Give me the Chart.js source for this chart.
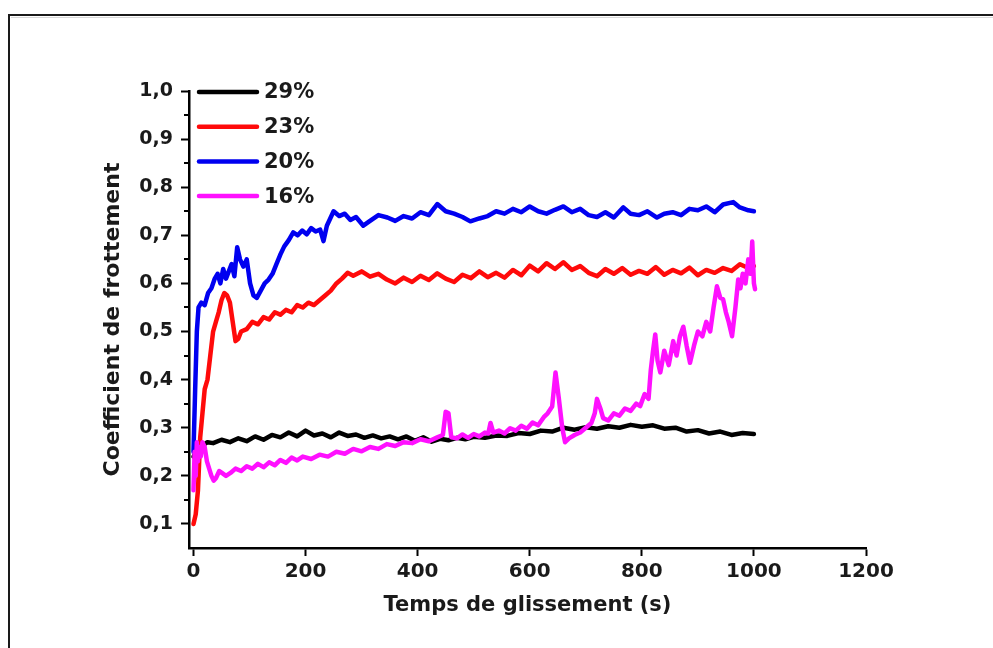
<!DOCTYPE html>
<html>
<head>
<meta charset="utf-8">
<title>Coefficient de frottement</title>
<script src="https://cdn.jsdelivr.net/npm/chart.js@4/dist/chart.umd.min.js"></script>
<style>
  html, body { margin: 0; padding: 0; background: #ffffff; }
  #wrap { width: 993px; height: 648px; position: relative; }
</style>
</head>
<body>
<div id="wrap"><canvas id="c" width="993" height="648"></canvas></div>
<script>
// Sliding time (s) and friction coefficient for each humidity level
const labels = ['29%', '23%', '20%', '16%'];
const colors = ['#000000', '#ff0a0a', '#0000f0', '#ff10ff'];

const x29 = [0, 5, 10, 15, 25, 35, 50, 65, 80, 95, 110, 125, 140, 155, 170, 185, 200, 215, 230, 245, 260, 275, 290, 305, 320, 335, 350, 365, 380, 395, 410, 425, 440, 455, 470, 485, 500, 520, 540, 560, 580, 600, 620, 640, 660, 680, 700, 720, 740, 760, 780, 800, 820, 840, 860, 880, 900, 920, 940, 960, 980, 1000];
const y29 = [0.24, 0.25, 0.245, 0.262, 0.27, 0.268, 0.275, 0.27, 0.278, 0.272, 0.282, 0.275, 0.285, 0.28, 0.29, 0.282, 0.294, 0.284, 0.288, 0.28, 0.29, 0.283, 0.286, 0.279, 0.284, 0.278, 0.282, 0.276, 0.282, 0.273, 0.28, 0.271, 0.277, 0.274, 0.279, 0.276, 0.281, 0.279, 0.284, 0.283, 0.289, 0.287, 0.294, 0.292, 0.3, 0.296, 0.301, 0.298, 0.303, 0.3, 0.306, 0.302, 0.305, 0.298, 0.3, 0.292, 0.295, 0.288, 0.292, 0.285, 0.289, 0.287];

const x23 = [0, 4, 8, 12, 16, 20, 25, 30, 35, 40, 45, 50, 55, 60, 65, 70, 75, 80, 85, 95, 105, 115, 125, 135, 145, 155, 165, 175, 185, 195, 205, 215, 225, 235, 245, 255, 265, 275, 285, 300, 315, 330, 345, 360, 375, 390, 405, 420, 435, 450, 465, 480, 495, 510, 525, 540, 555, 570, 585, 600, 615, 630, 645, 660, 675, 690, 705, 720, 735, 750, 765, 780, 795, 810, 825, 840, 855, 870, 885, 900, 915, 930, 945, 960, 975, 990, 1000];
const y23 = [0.1, 0.12, 0.17, 0.28, 0.33, 0.38, 0.4, 0.45, 0.5, 0.52, 0.54, 0.565, 0.58, 0.575, 0.56, 0.52, 0.48, 0.485, 0.5, 0.505, 0.52, 0.515, 0.53, 0.525, 0.54, 0.535, 0.545, 0.54, 0.555, 0.55, 0.56, 0.555, 0.565, 0.575, 0.585, 0.6, 0.61, 0.622, 0.616, 0.625, 0.614, 0.62, 0.608, 0.6, 0.612, 0.603, 0.616, 0.607, 0.621, 0.61, 0.603, 0.618, 0.611, 0.625, 0.613, 0.622, 0.612, 0.628, 0.617, 0.637, 0.625, 0.642, 0.63, 0.644, 0.628, 0.636, 0.622, 0.615, 0.63, 0.62, 0.632, 0.618, 0.626, 0.62, 0.634, 0.618, 0.628, 0.621, 0.633, 0.617, 0.628, 0.622, 0.632, 0.626, 0.64, 0.632, 0.636];

const x20 = [0, 3, 6, 9, 14, 20, 26, 32, 38, 43, 48, 53, 58, 63, 68, 73, 78, 83, 89, 95, 101, 107, 113, 120, 127, 134, 141, 148, 155, 162, 170, 178, 186, 194, 202, 210, 218, 226, 232, 238, 244, 250, 260, 270, 280, 290, 303, 315, 330, 346, 360, 375, 390, 405, 420, 435, 450, 465, 480, 494, 510, 525, 540, 555, 570, 585, 600, 615, 630, 645, 660, 675, 690, 705, 720, 735, 750, 767, 780, 795, 810, 827, 840, 855, 870, 885, 900, 915, 930, 945, 963, 975, 990, 1000];
const y20 = [0.25, 0.38, 0.5, 0.55, 0.56, 0.555, 0.58, 0.59, 0.61, 0.62, 0.6, 0.63, 0.61, 0.625, 0.64, 0.615, 0.675, 0.65, 0.635, 0.65, 0.6, 0.575, 0.57, 0.585, 0.6, 0.608, 0.62, 0.64, 0.66, 0.677, 0.69, 0.706, 0.7, 0.71, 0.702, 0.715, 0.708, 0.712, 0.688, 0.72, 0.735, 0.75, 0.74, 0.745, 0.732, 0.738, 0.72, 0.73, 0.742, 0.737, 0.73, 0.74, 0.735, 0.748, 0.742, 0.765, 0.75, 0.745, 0.738, 0.729, 0.735, 0.74, 0.75, 0.745, 0.755, 0.748, 0.76, 0.75, 0.745, 0.753, 0.76, 0.748, 0.755, 0.742, 0.738, 0.748, 0.737, 0.758, 0.745, 0.742, 0.75, 0.737, 0.745, 0.748, 0.742, 0.755, 0.752, 0.76, 0.748, 0.764, 0.769, 0.758, 0.752, 0.75];

const x16 = [0, 2, 4, 6, 8, 10, 13, 16, 20, 24, 28, 32, 36, 40, 46, 52, 58, 66, 75, 85, 95, 105, 115, 125, 135, 145, 155, 165, 175, 185, 195, 210, 225, 240, 255, 270, 285, 300, 315, 330, 345, 360, 375, 390, 405, 420, 435, 445, 450, 455, 460, 470, 480, 490, 500, 510, 520, 526, 530, 535, 545, 555, 565, 575, 585, 595, 605, 615, 625, 632, 640, 646, 652, 658, 663, 670, 680, 690, 700, 710, 716, 720, 726, 731, 740, 750, 760, 770, 780, 790, 797, 805, 812, 816, 820, 824, 828, 833, 840, 848, 856, 862, 868, 874, 880, 886, 893, 900, 908, 915, 922, 928, 934, 940, 945, 950, 955, 961, 967, 972, 976, 980, 985, 990, 994, 997, 1000, 1002];
const y16 = [0.17, 0.25, 0.2, 0.27, 0.23, 0.26, 0.24, 0.27, 0.26, 0.23, 0.215, 0.2, 0.19, 0.195, 0.21, 0.205, 0.2, 0.206, 0.215, 0.21, 0.22, 0.215, 0.225, 0.218, 0.228, 0.222, 0.233, 0.227, 0.238, 0.232, 0.24, 0.235, 0.244, 0.24, 0.25, 0.246, 0.256, 0.251, 0.26, 0.256, 0.266, 0.262, 0.27, 0.268, 0.276, 0.272, 0.28, 0.285, 0.333, 0.33, 0.28, 0.278, 0.286, 0.279, 0.287, 0.282, 0.29, 0.288, 0.31, 0.29, 0.294, 0.288, 0.299, 0.294, 0.304, 0.298, 0.311, 0.305, 0.322, 0.33, 0.344, 0.415, 0.36, 0.3, 0.27, 0.278, 0.285, 0.29, 0.3, 0.31, 0.33, 0.36, 0.34, 0.32, 0.315, 0.33, 0.325, 0.34, 0.335, 0.35, 0.345, 0.37, 0.36, 0.42, 0.46, 0.494, 0.44, 0.415, 0.46, 0.43, 0.48, 0.45, 0.49, 0.51, 0.47, 0.435, 0.47, 0.5, 0.49, 0.52, 0.5, 0.55, 0.594, 0.57, 0.567, 0.54, 0.52, 0.49, 0.55, 0.608, 0.59, 0.62, 0.6, 0.65, 0.62, 0.687, 0.6, 0.588];

// Axis ticks
const xTicks = [0, 200, 400, 600, 800, 1000, 1200];
const yTicks = [0.1, 0.2, 0.3, 0.4, 0.5, 0.6, 0.7, 0.8, 0.9, 1.0];
const yMinorTicks = [0.15, 0.25, 0.35, 0.45, 0.55, 0.65, 0.75, 0.85, 0.95];

const FONT = '"DejaVu Sans", "Liberation Sans", Arial, sans-serif';

const series = [[x29, y29], [x23, y23], [x20, y20], [x16, y16]];
const datasets = series.map(([xs, ys], i) => ({
  label: labels[i],
  data: xs.map((x, k) => ({ x: x, y: ys[k] })),
  borderColor: colors[i],
  backgroundColor: colors[i],
  borderWidth: 4.5,
  borderJoinStyle: 'round',
  borderCapStyle: 'round',
  pointRadius: 0,
  tension: 0,
  fill: false,
  order: 4 - i
}));

// Outer frame around the figure
const framePlugin = {
  id: 'frame',
  beforeDraw(chart) {
    const ctx = chart.ctx;
    ctx.save();
    ctx.strokeStyle = '#1a1a1a';
    ctx.lineWidth = 2;
    ctx.beginPath();
    ctx.moveTo(9, chart.height);
    ctx.lineTo(9, 15);
    ctx.lineTo(chart.width, 15);
    ctx.stroke();
    ctx.strokeStyle = '#d8d8d8';
    ctx.lineWidth = 1;
    ctx.beginPath();
    ctx.moveTo(11, 17.5);
    ctx.lineTo(chart.width, 17.5);
    ctx.stroke();
    ctx.restore();
  }
};

// Minor ticks on the y axis and the legend inside the plot
const extrasPlugin = {
  id: 'extras',
  afterDraw(chart) {
    const ctx = chart.ctx;
    const ys = chart.scales.y;
    const area = chart.chartArea;
    ctx.save();
    ctx.strokeStyle = '#000';
    ctx.lineWidth = 2;
    yMinorTicks.forEach(v => {
      const py = Math.round(ys.getPixelForValue(v));
      ctx.beginPath();
      ctx.moveTo(area.left - 5, py);
      ctx.lineTo(area.left, py);
      ctx.stroke();
    });
    // legend
    ctx.font = 'bold 21px ' + FONT;
    ctx.textBaseline = 'middle';
    ctx.textAlign = 'left';
    chart.data.datasets.forEach((ds, i) => {
      const yy = area.top + 1 + i * 34.7;
      ctx.strokeStyle = ds.borderColor;
      ctx.lineWidth = 4.5;
      ctx.lineCap = 'round';
      ctx.beginPath();
      ctx.moveTo(area.left + 10, yy);
      ctx.lineTo(area.left + 68, yy);
      ctx.stroke();
      ctx.fillStyle = '#1a1a1a';
      ctx.fillText(ds.label, area.left + 75, yy + 1);
    });
    ctx.restore();
  }
};

new Chart(document.getElementById('c'), {
  type: 'line',
  data: { datasets: datasets },
  options: {
    responsive: false,
    animation: false,
    layout: { padding: { left: 89, right: 127, top: 91, bottom: 20 } },
    plugins: { legend: { display: false }, tooltip: { enabled: false } },
    scales: {
      x: {
        type: 'linear',
        min: -8,
        max: 1200,
        afterBuildTicks(scale) { scale.ticks = xTicks.map(v => ({ value: v })); },
        afterFit(scale) { scale.height = 80; },
        border: { display: true, color: '#000', width: 2.5 },
        grid: { drawOnChartArea: false, drawTicks: true, tickLength: 8, tickWidth: 2, tickColor: '#000', color: '#000' },
        ticks: {
          color: '#1a1a1a',
          padding: 4,
          maxRotation: 0,
          font: { family: FONT, size: 20, weight: 'bold' },
          callback: v => String(v)
        },
        title: {
          display: true,
          text: 'Temps de glissement (s)',
          color: '#1a1a1a',
          padding: { top: 0, bottom: 10 },
          font: { family: FONT, size: 21, weight: 'bold' }
        }
      },
      y: {
        type: 'linear',
        min: 0.05,
        max: 1.0,
        afterBuildTicks(scale) { scale.ticks = yTicks.map(v => ({ value: v })); },
        afterFit(scale) { scale.width = 100; },
        border: { display: true, color: '#000', width: 2.5 },
        grid: { drawOnChartArea: false, drawTicks: true, tickLength: 8, tickWidth: 2, tickColor: '#000', color: '#000' },
        ticks: {
          color: '#1a1a1a',
          padding: 8,
          font: { family: FONT, size: 19, weight: 'bold' },
          callback: v => Number(v).toFixed(1).replace('.', ',')
        },
        title: {
          display: true,
          text: 'Coefficient de frottement',
          color: '#1a1a1a',
          padding: { top: 11, bottom: 0 },
          font: { family: FONT, size: 22, weight: 'bold' }
        }
      }
    }
  },
  plugins: [framePlugin, extrasPlugin]
});
</script>
</body>
</html>
